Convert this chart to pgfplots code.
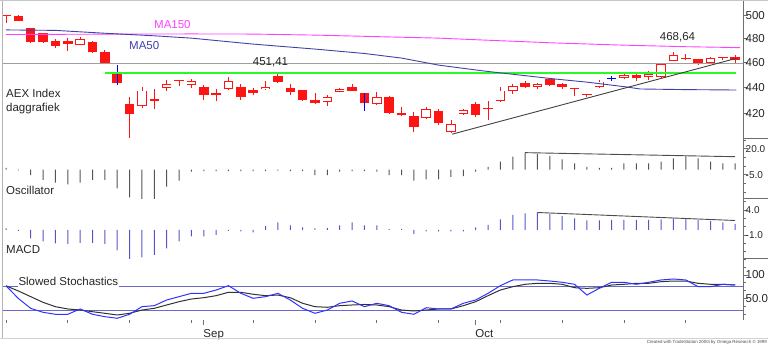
\documentclass[border=0pt]{standalone}
\usepackage{pgfplots}
\usepackage{pgfplotstable}
\pgfplotsset{compat=1.18}
\usepackage{fontspec}
\setmainfont{Liberation Sans}

\definecolor{candle}{RGB}{255,20,20}
\definecolor{ma150}{RGB}{255,64,255}
\definecolor{ma50}{RGB}{64,64,168}
\definecolor{lvl}{RGB}{40,250,40}
\definecolor{axisc}{RGB}{110,110,110}
\definecolor{tickc}{RGB}{40,40,40}
\definecolor{oscc}{RGB}{85,85,85}
\definecolor{macdc}{RGB}{85,85,200}
\definecolor{stk}{RGB}{50,50,255}
\definecolor{std}{RGB}{50,50,50}
\definecolor{stl}{RGB}{105,105,205}

\newcommand\lab{\fontsize{11.5}{13}\selectfont}
\newcommand\slab{\fontsize{10}{12}\selectfont}

% falling candles (filled)
\pgfplotstableread{
x o h l c
0 500.6 500.8 493.5 500.0
1 500.0 500.2 494.8 495.0
2 488.9 489.2 475.9 477.3
3 484.5 484.8 476.5 477.3
4 477.9 479.6 472.2 473.9
5 478.2 480.2 469.7 475.1
7 476.8 478.2 467.5 468.8
8 468.8 470.3 459.0 459.2
9 451.6 457.8 441.8 443.1
10 427.0 432.2 401.6 419.4
12 430.9 438.9 422.9 429.3
14 445.4 445.5 440.8 444.8
16 439.9 441.6 430.4 433.9
17 435.2 438.4 429.0 433.7
19 440.4 442.7 430.4 432.6
20 437.6 439.2 433.9 435.2
22 449.2 451.41 443.6 443.8
23 439.6 442.7 433.9 436.1
24 437.8 438.0 429.3 429.9
25 430.4 435.2 427.0 427.8
28 440.4 442.7 437.0 437.3
29 435.2 435.7 421.7 427.4
31 432.6 432.8 419.3 419.9
32 419.9 425.0 417.6 418.4
33 418.1 421.1 406.4 409.5
35 421.7 422.9 411.6 412.4
38 427.1 428.4 417.0 418.7
39 424.1 428.9 414.8 422.9
42 443.1 445.2 439.7 440.4
44 446.5 447.5 441.0 441.8
45 442.3 443.0 438.5 439.9
46 439.5 439.6 433.2 438.9
47 434.8 434.9 432.2 434.2
51 449.5 450.5 445.0 447.1
55 463.6 467.0 461.9 463.0
56 462.5 462.7 458.2 458.4
58 464.4 464.7 461.9 463.8
59 464.7 466.1 458.6 461.9
}\candDn

% rising candles (hollow)
\pgfplotstableread{
x o h l c
6 474.5 481.1 474.3 479.4
11 425.7 440.3 424.1 437.3
13 439.7 445.3 437.3 442.7
15 442.1 446.5 439.7 444.8
18 438.6 448.2 437.8 444.5
21 438.4 444.8 437.8 440.0
26 428.7 433.9 425.7 432.3
27 436.3 439.5 436.0 438.7
30 426.8 436.0 426.3 432.6
34 416.6 425.0 415.9 422.9
36 406.4 415.2 405.3 412.2
37 419.5 423.5 419.0 422.2
40 429.5 440.3 428.7 437.3
41 437.3 442.7 434.7 440.9
43 439.9 443.5 438.5 442.3
48 440.4 445.4 439.6 444.4
50 447.1 451.0 446.2 449.7
52 448.3 453.2 445.7 450.5
53 447.9 459.6 447.1 458.6
54 461.3 468.64 461.1 466.1
57 459.2 464.3 459.1 463.8
}\candUp

% highlighted bars (blue)
\pgfplotstableread{
x o h l c
9 451.6 457.8 441.8 443.1
29 435.2 435.7 421.7 427.4
49 447.3 448.9 445.0 446.8
}\candBl

\begin{document}
\begin{tikzpicture}[x=1pt,y=1pt]
\useasboundingbox (0,0) rectangle (768,345);
\pgfplotsset{
  panel/.style={
    scale only axis, width=741pt, anchor=south west,
    xmin=-0.324, xmax=59.63,
    axis y line*=right,
    y axis line style={draw=axisc, line width=0.8pt},
    ytick align=outside, xtick align=outside,
    major tick length=4.5pt, minor tick length=2.5pt,
    every tick/.style={draw=axisc, line width=0.8pt},
    minor tick style={draw=axisc, line width=0.8pt},
    yticklabel style={font=\lab, text=tickc, anchor=west, inner sep=0pt, xshift=-2pt},
    /pgf/number format/assume math mode=true,
  },
  wick/.style={draw=none, error bars/.cd, y dir=plus, y explicit, error mark=none,
    error bar style={draw=#1, line width=0.85pt}},
  body/.style 2 args={draw=none, error bars/.cd, y dir=plus, y explicit, error mark=none,
    error bar style={draw=#1, line width=#2}},
}

% ---------------- price panel ----------------
\begin{axis}[panel, axis x line=none, at={(2pt,206.5pt)}, height=138.5pt,
  ymode=log, ymin=401.5, ymax=514.2,
  ytick={420,440,460,480,500}, yticklabels={420,440,460,480,500}]
% candles
\addplot[wick=candle] table[x=x, y=l, y error expr=\thisrow{h}-\thisrow{l}] {\candDn};
\addplot[wick=candle] table[x=x, y=l, y error expr=\thisrow{h}-\thisrow{l}] {\candUp};
\addplot[body={candle}{9.5pt}] table[x=x, y=c, y error expr=\thisrow{o}-\thisrow{c}] {\candDn};
\addplot[body={candle}{9.5pt}] table[x=x, y=o, y error expr=\thisrow{c}-\thisrow{o}] {\candUp};
\addplot[draw=none, error bars/.cd, y dir=plus, y explicit, error mark=none,
  error bar style={draw=white, line width=7.8pt, shorten >=0.85pt, shorten <=0.85pt}]
  table[x=x, y=o, y error expr=\thisrow{c}-\thisrow{o}] {\candUp};
\addplot[wick=blue] table[x=x, y=l, y error expr=\thisrow{h}-\thisrow{l}] {\candBl};
\addplot[body={blue}{9.5pt}] coordinates {(49,446.8) +- (0,0.6)};
% reference lines
\addplot[draw=gray!75, line width=0.8pt] coordinates {(-0.4,459.1) (59.7,459.1)};
\addplot[draw=lvl, line width=1.8pt] coordinates {(8,451.41) (59.1,451.41)};
% moving averages
\addplot[draw=ma150, line width=0.9pt] coordinates {
(0,483.4) (5,483.6) (10,483.8) (15,483.9) (20,483.8) (25,482.9) (30,481.6)
(35,480.3) (38.3,478.8) (44.4,476.2) (50,474.3) (55,473.0) (59.4,472.2)};
\addplot[draw=ma50, line width=0.9pt] coordinates {
(0,487.4) (4,487.0) (8,484.5) (12,482.3) (15,480.3) (20,475.2) (25,471.0)
(29,467.3) (32,463.5) (35,457.7) (38.6,453.0) (40.8,450.5) (44.4,446.5)
(47,444.0) (50.2,440.2) (51.3,438.6) (55,438.1) (59.1,437.8)};
% trend line
\addplot[draw=black!75, line width=0.9pt] coordinates {(36.1,404.6) (59.1,463.3)};
\end{axis}

% ---------------- oscillator panel ----------------
\begin{axis}[panel, axis x line=none, at={(2pt,146.5pt)}, height=60pt,
  ymin=-27.88, ymax=29.81,
  ytick={-5,20}, yticklabels={-5.0,20.0},
  yticklabel style={font=\slab},
  minor ytick={-21.67,-13.33,3.33,11.67,28.33}]
\addplot[ybar, bar width=1pt, fill=oscc, draw=none] coordinates {
(0,1.5) (1,-0.8) (2,-5.3) (3,-10) (4,-12.7) (5,-14.2) (6,-12.7) (7,-10) (8,-10) (9,-18.1)
(10,-26.7) (11,-28.5) (12,-28.5) (13,-16.5) (14,-10.7) (15,-2) (16,-1.5) (17,-1.5) (18,-1.5) (19,-1.5)
(20,-1.5) (21,-1.5) (22,-1.2) (23,-1.5) (24,-1.5) (25,-5.3) (26,-5.3) (27,-2) (28,-1.5) (29,-1.5)
(30,-2) (31,-5.3) (32,-5.3) (33,-10.7) (34,-9.6) (35,-9.6) (36,-7) (37,-6.4) (38,-2) (39,2.5)
(40,7.5) (41,12.3) (42,16.2) (43,14.9) (44,13) (45,9.8) (46,6) (47,2.5) (48,1.5) (49,1.5)
(50,6) (51,6) (52,6) (53,7.5) (54,10.8) (55,13) (56,10.8) (57,7.5) (58,6) (59,6)};
\addplot[draw=black!70, line width=0.9pt] coordinates {(42,16.2) (59,12.3)};
\end{axis}

% ---------------- MACD panel ----------------
\begin{axis}[panel, axis x line=none, at={(2pt,86.5pt)}, height=60pt,
  ymin=-5.7, ymax=6.3,
  ytick={-1,4}, yticklabels={-1.0,4.0},
  yticklabel style={font=\slab},
  minor ytick={-4.33,-2.67,0.67,2.33,5.67}]
\addplot[ybar, bar width=1pt, fill=macdc, draw=none] coordinates {
(0,0.3) (1,-0.2) (2,-1.7) (3,-2.3) (4,-2.7) (5,-2.8) (6,-2.6) (7,-2.6) (8,-2.8) (9,-4.1)
(10,-5.9) (11,-5.5) (12,-5) (13,-3.7) (14,-2.3) (15,-1.3) (16,-1.3) (17,-1) (18,-0.2) (19,-0.3)
(20,-0.5) (21,0.8) (22,1.5) (23,0.9) (24,0.5) (25,0.3) (26,0.4) (27,0.9) (28,1.5) (29,0.9)
(30,0.9) (31,0.2) (32,0.2) (33,-0.8) (34,-0.3) (35,-0.3) (36,-0.3) (37,-0.3) (38,0.5) (39,1)
(40,2.1) (41,3) (42,3.3) (43,3.5) (44,3.2) (45,2.8) (46,2.3) (47,1.9) (48,1.9) (49,2)
(50,2) (51,2) (52,2) (53,2.1) (54,2.3) (55,2.3) (56,2) (57,1.8) (58,1.5) (59,1.2)};
\addplot[draw=black!70, line width=0.9pt] coordinates {(43,3.5) (59,1.9)};
\end{axis}

% ---------------- stochastics panel ----------------
\begin{axis}[panel, at={(2pt,24.5pt)}, height=62pt,
  ymin=3.19, ymax=135.1,
  ytick={50,100}, yticklabels={50.0,100},
  minor ytick={16.67,33.33,66.67,83.33,116.67,133.33},
  axis x line*=bottom, x axis line style={draw=none},
  xtick={16,38}, xticklabels={Sep,Oct},
  minor xtick={0,5,10,15,20,25,30,35,40,45,50,55},
  xticklabel style={font=\lab, text=tickc, anchor=north west, inner sep=0pt, xshift=-0.5pt, yshift=-4.5pt}]
\addplot[draw=stl, line width=1.4pt] coordinates {(-0.4,75) (59.7,75)};
\addplot[draw=stl, line width=1.4pt] coordinates {(-0.4,25) (59.7,25)};
\addplot[draw=std, line width=1pt] coordinates {
(0,77) (1,66) (2,53.9) (3,41.8) (4,32.6) (5,27.7) (6,25.5) (7,21.9) (8,18.5) (9,14.9)
(10,18.5) (11,25.5) (12,29.1) (13,36.2) (14,43.2) (15,48.9) (16,51.7) (17,56) (18,63.2) (19,63.2)
(20,59) (21,56) (22,57.4) (23,51.7) (24,39.8) (25,32.6) (26,31.3) (27,34.7) (28,36.2) (29,37.3)
(30,36.2) (31,32.6) (32,25.5) (33,23.4) (34,25.5) (35,27.7) (36,27.7) (37,34.7) (38,43.2) (39,56)
(40,68) (41,75.1) (42,80.2) (43,82.3) (44,82.3) (45,80.2) (46,73) (47,71.6) (48,73) (49,78.7)
(50,80.2) (51,82.3) (52,82.3) (53,85.8) (54,87.2) (55,87.2) (56,82.3) (57,80.2) (58,80.2) (59,78.7)};
\addplot[draw=stk, line width=1pt] coordinates {
(0,77) (1,50) (2,29) (3,20.6) (4,16.4) (5,16.4) (6,27.7) (7,16.4) (8,11.3) (9,7.9)
(10,16.4) (11,32.6) (12,34.8) (13,46.8) (14,53.9) (15,61) (16,61) (17,68) (18,77.3) (19,61)
(20,50.4) (21,53.9) (22,61) (23,46.8) (24,29.1) (25,18.5) (26,25.5) (27,39.8) (28,44.7) (29,32.6)
(30,39.8) (31,34.7) (32,20.6) (33,16.4) (34,30.4) (35,27.7) (36,27.7) (37,39.8) (38,46.8) (39,61)
(40,77.3) (41,89.4) (42,89.4) (43,89.4) (44,87.2) (45,84.5) (46,80.2) (47,57.4) (48,71.6) (49,84.5)
(50,84.5) (51,80.2) (52,84.5) (53,89.4) (54,91.5) (55,89.4) (56,75.1) (57,75.1) (58,80.2) (59,78.7)};
\end{axis}

% ---------------- frame and decorations ----------------
\draw[gray!60, line width=0.8pt] (2,7) -- (2,345);
\draw[gray!45, line width=0.8pt] (0,344.6) -- (768,344.6);
\draw[gray!35, line width=0.6pt] (0,7) -- (768,7);
\foreach \yy in {206.5,146.5,86.5}{\draw[axisc, line width=0.8pt] (743,\yy) -- (768,\yy);}

% ---------------- texts ----------------
\node[anchor=base west, inner sep=0pt, font=\lab, text=black!85] at (6,247.7) {AEX Index};
\node[anchor=base west, inner sep=0pt, font=\lab, text=black!85] at (6,233.7) {daggrafiek};
\node[anchor=base west, inner sep=0pt, font=\lab, text=ma150] at (154,316.7) {MA150};
\node[anchor=base west, inner sep=0pt, font=\lab, text=ma50] at (129,295) {MA50};
\node[anchor=base, inner sep=0pt, font=\lab, text=black!85] at (270.5,279) {451,41};
\node[anchor=base, inner sep=0pt, font=\lab, text=black!85] at (677.5,304) {468,64};
\node[anchor=base west, inner sep=0pt, font=\lab, text=black!85] at (6,150) {Oscillator};
\node[anchor=base west, inner sep=0pt, font=\lab, text=black!85] at (6,91.7) {MACD};
\node[anchor=base west, inner sep=1pt, fill=white, font=\lab, text=black!85] at (17.3,59.3) {Slowed Stochastics};
\node[anchor=east, inner sep=0pt, font=\fontsize{4.4}{5}\selectfont, text=black!70] at (767,2.5)
  {Created with TradeStation 2000i by Omega Research \textcopyright{} 1999};
\end{tikzpicture}
\end{document}
